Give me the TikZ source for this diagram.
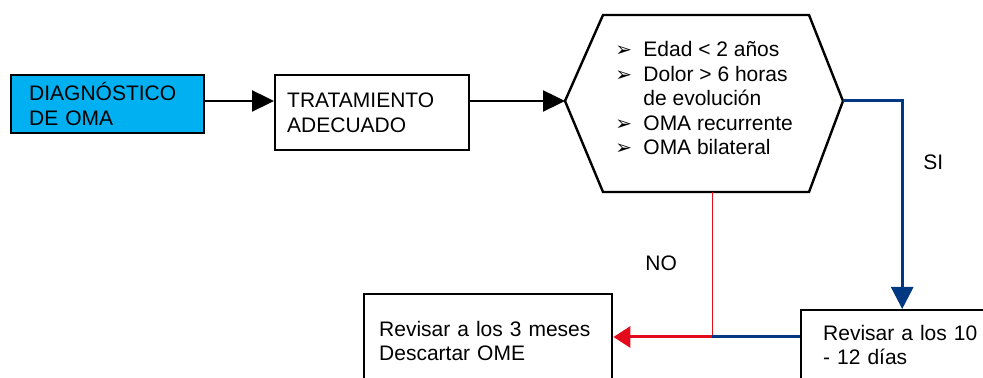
\documentclass[tikz,border=0pt]{standalone}
\usepackage{fontspec}
\setmainfont{Liberation Sans}
\newfontfamily\dejavu{DejaVu Sans}
\usetikzlibrary{arrows.meta}

\definecolor{azulclaro}{RGB}{0,176,240}
\definecolor{azulsi}{RGB}{0,56,130}
\definecolor{rojono}{RGB}{227,10,28}

\newcommand{\vin}{\makebox[14pt][l]{\dejavu\normalsize ➢}}

\tikzset{
  caja/.style={draw, line width=1.2pt, anchor=north west, align=left, inner ysep=0pt},
  flecha/.style={line width=1.2pt, -{Triangle[length=11pt,width=10.5pt]}},
  flechasi/.style={azulsi, line width=1.5pt, -{Triangle[length=11pt,width=11pt]}},
  flechano/.style={rojono, line width=1.5pt, -{Triangle[length=8.5pt,width=10.5pt]}},
  etiqueta/.style={anchor=base west, inner sep=0pt}
}

\begin{document}
\begin{tikzpicture}[x=0.5pt,y=-0.5pt,font=\fontsize{10.5}{12.25}\selectfont]
\useasboundingbox (0,0) rectangle (983,378);
\clip (0,0) rectangle (983,378);

% cajas
\node[caja, fill=azulclaro, minimum width=96.5pt, minimum height=29pt,
      inner xsep=9pt, text width=78.5pt] (diag) at (10,74) {DIAGNÓSTICO\\DE OMA};
\node[caja, minimum width=97pt, minimum height=37.5pt,
      inner xsep=6pt, text width=85pt] (trat) at (274,74) {TRATAMIENTO\\ADECUADO};
\node[caja, minimum width=124pt, minimum height=47pt,
      inner xsep=7.5pt, text width=109pt] (m3) at (363,293) {Revisar a los 3 meses\\Descartar OME};
\node[caja, minimum width=101pt, minimum height=35pt,
      inner xsep=11pt, text width=79pt] (d10) at (800,309) {Revisar a los 10\\- 12 días};

% hexagono
\coordinate (hexL) at (565,101);
\coordinate (hexR) at (843,101);
\coordinate (hexB) at (712,192);
\draw[line width=1.2pt, line join=miter] (hexL) -- (603,15) -- (809,15) -- (hexR)
  -- (809,192) -- (603,192) -- cycle;
\node[anchor=north west, inner sep=0pt, align=left] (crit) at (615,41)
  {\vin Edad < 2 años\\
   \vin Dolor > 6 horas\\
   \hspace*{14pt}de evolución\\
   \vin OMA recurrente\\
   \vin OMA bilateral};

\draw[flecha] (diag.east |- hexL) -- (trat.west |- hexL);
\draw[flecha] (trat.east |- hexL) -- (hexL);

% SI
\draw[flechasi] (hexR) -| (d10.north);
\node[etiqueta] (si) at (923,170) {SI};

% NO
\coordinate (cruce) at (712,337);
\draw[rojono, line width=0.5pt] (hexB) -- (cruce);
\draw[azulsi, line width=1.5pt] (d10.west |- cruce) -- (cruce);
\draw[flechano] (cruce) -- (m3.east |- cruce);
\node[etiqueta] (no) at (645,271) {NO};
\end{tikzpicture}
\end{document}
